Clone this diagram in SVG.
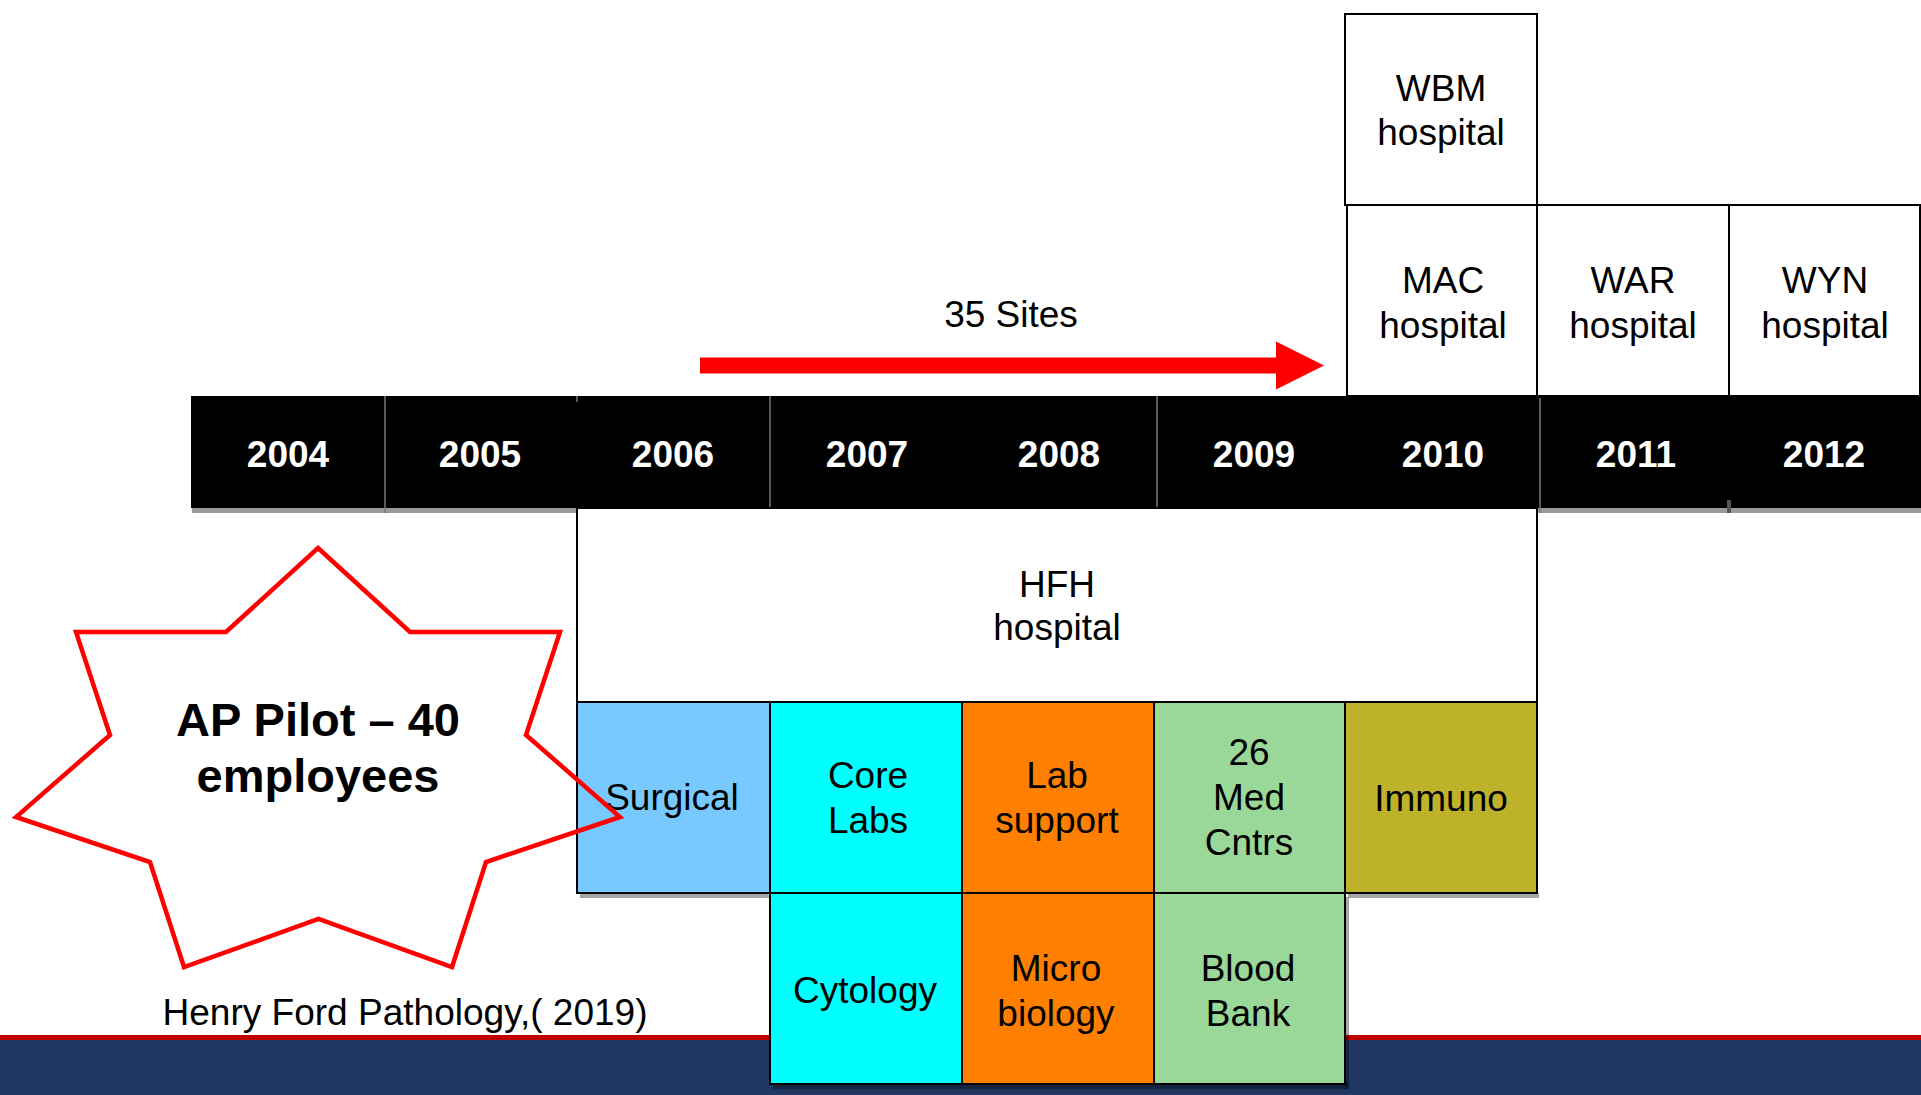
<svg xmlns="http://www.w3.org/2000/svg" width="1921" height="1095" viewBox="0 0 1921 1095">
<style>
text{font-family:"Liberation Sans",Arial,Helvetica,sans-serif;font-size:37px;text-anchor:middle;fill:#000}
.yr{font-weight:bold;fill:#fff}
.b{stroke:#000;stroke-width:2}
.sh{fill:#000;opacity:0.35}
.dv{stroke:#777;stroke-width:1.5}
</style>
<rect width="1921" height="1095" fill="#fff"/>
<g id="footer">
<rect x="0" y="1035" width="1921" height="6" fill="#C00000"/>
<rect x="0" y="1040" width="1921" height="55" fill="#213763"/>
</g>
<g id="timeline">
<rect x="192" y="503" width="1729" height="10" fill="#9a9a9a"/>
<rect x="191" y="396" width="1730" height="112" fill="#000"/>
<line class="dv" x1="385" y1="396" x2="385" y2="513"/>
<line class="dv" x1="577" y1="396" x2="577" y2="402"/>
<line class="dv" x1="770" y1="396" x2="770" y2="508"/>
<line class="dv" x1="1157" y1="396" x2="1157" y2="508"/>
<line class="dv" x1="1540" y1="398" x2="1540" y2="513"/>
<line class="dv" x1="1729" y1="500" x2="1729" y2="513" style="stroke:#555;stroke-width:4"/>
<text class="yr" x="288" y="467">2004</text>
<text class="yr" x="480" y="467">2005</text>
<text class="yr" x="673" y="467">2006</text>
<text class="yr" x="867" y="467">2007</text>
<text class="yr" x="1059" y="467">2008</text>
<text class="yr" x="1254" y="467">2009</text>
<text class="yr" x="1443" y="467">2010</text>
<text class="yr" x="1636" y="467">2011</text>
<text class="yr" x="1824" y="467">2012</text>
</g>
<g id="connectors">
<polygon points="700,357.5 1276,357.5 1276,341.5 1324,365.5 1276,389.5 1276,373.5 700,373.5" fill="#FF0000"/>
<text x="1011" y="327">35 Sites</text>
</g>
<g id="wbm">
<rect class="b" x="1345" y="14" width="192" height="191" fill="#fff"/>
<text x="1441" y="101">WBM</text>
<text x="1441" y="145">hospital</text>
</g>
<g id="mac">
<rect class="b" x="1347" y="205" width="190" height="191" fill="#fff"/>
<text x="1443" y="293">MAC</text>
<text x="1443" y="338">hospital</text>
</g>
<g id="war">
<rect class="b" x="1537" y="205" width="192" height="191" fill="#fff"/>
<text x="1633" y="293">WAR</text>
<text x="1633" y="338">hospital</text>
</g>
<g id="wyn">
<rect class="b" x="1729" y="205" width="191" height="191" fill="#fff"/>
<text x="1825" y="293">WYN</text>
<text x="1825" y="338">hospital</text>
</g>
<g id="hfh">
<rect class="b" x="577" y="508" width="960" height="194" fill="#fff"/>
<text x="1057" y="597">HFH</text>
<text x="1057" y="640">hospital</text>
</g>
<g id="shadows">
<rect class="sh" x="580" y="893" width="190" height="5"/>
<rect class="sh" x="1348" y="893" width="191" height="5"/>
<rect class="sh" x="773" y="1084" width="575" height="5"/>
<rect class="sh" x="1345" y="897" width="4" height="192"/>
</g>
<g id="surgical">
<rect class="b" x="577" y="702" width="193" height="191" fill="#77C9FF"/>
<text x="672" y="810">Surgical</text>
</g>
<g id="core-labs">
<rect class="b" x="770" y="702" width="192" height="191" fill="#00FFFF"/>
<text x="868" y="788">Core</text>
<text x="868" y="833">Labs</text>
</g>
<g id="lab-support">
<rect class="b" x="962" y="702" width="192" height="191" fill="#FF8000"/>
<text x="1057" y="788">Lab</text>
<text x="1057" y="833">support</text>
</g>
<g id="med-cntrs">
<rect class="b" x="1154" y="702" width="191" height="191" fill="#99D899"/>
<text x="1249" y="765">26</text>
<text x="1249" y="810">Med</text>
<text x="1249" y="855">Cntrs</text>
</g>
<g id="immuno">
<rect class="b" x="1345" y="702" width="192" height="191" fill="#BFB22B"/>
<text x="1441" y="811">Immuno</text>
</g>
<g id="cytology">
<rect class="b" x="770" y="893" width="192" height="191" fill="#00FFFF"/>
<text x="865" y="1003">Cytology</text>
</g>
<g id="microbiology">
<rect class="b" x="962" y="893" width="192" height="191" fill="#FF8000"/>
<text x="1056" y="981">Micro</text>
<text x="1056" y="1026">biology</text>
</g>
<g id="blood-bank">
<rect class="b" x="1154" y="893" width="191" height="191" fill="#99D899"/>
<text x="1248" y="981">Blood</text>
<text x="1248" y="1026">Bank</text>
</g>
<g id="ap-pilot">
<polygon points="318,548 410,632 560,632 526,735 620,817 486,862 452,967 318.5,919 184,967 150,862 16,817 110,735 76,632 226,632" fill="none" stroke="#FF0000" stroke-width="4.5" stroke-linejoin="miter"/>
<text x="318" y="736" style="font-weight:bold;font-size:47px">AP Pilot – 40</text>
<text x="318" y="792" style="font-weight:bold;font-size:47px">employees</text>
</g>
<g id="caption">
<text x="405" y="1025" style="font-size:37px" textLength="485" lengthAdjust="spacingAndGlyphs">Henry Ford Pathology,( 2019)</text>
</g>
</svg>
